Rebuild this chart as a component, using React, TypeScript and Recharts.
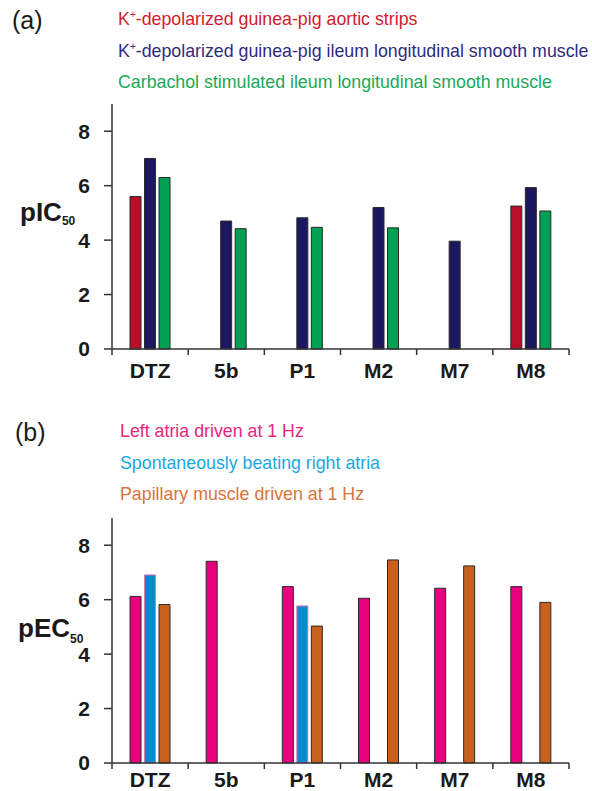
import React from 'react';
import { BarChart, Bar, XAxis, YAxis } from 'recharts';

// ---------- data ----------
const categories = ['DTZ', '5b', 'P1', 'M2', 'M7', 'M8'];
const yTicks = [0, 2, 4, 6, 8];

// panel (a) pIC50
const aorticStrips = [5.6, null, null, null, null, 5.25];
const ileumK = [7.0, 4.7, 4.82, 5.2, 3.96, 5.93];
const ileumCarbachol = [6.3, 4.42, 4.47, 4.45, null, 5.07];

// panel (b) pEC50
const leftAtria = [6.12, 7.41, 6.48, 6.05, 6.42, 6.48];
const rightAtria = [6.91, null, 5.77, null, null, null];
const papillary = [5.82, null, 5.03, 7.46, 7.24, 5.9];

const seriesA = [
  { key: 'aortic', name: 'K+-depolarized guinea-pig aortic strips', fill: '#b8102a', stroke: '#2a2a2a', text: '#d0202e' },
  { key: 'ileumK', name: 'K+-depolarized guinea-pig ileum longitudinal smooth muscle', fill: '#1b1860', stroke: '#2a2a2a', text: '#2e2b80' },
  { key: 'carbachol', name: 'Carbachol stimulated ileum longitudinal smooth muscle', fill: '#00a052', stroke: '#2a2a2a', text: '#1aa858' },
];
const seriesB = [
  { key: 'left', name: 'Left atria driven at 1 Hz', fill: '#e8007e', stroke: '#2a2a2a', text: '#e8267e' },
  { key: 'right', name: 'Spontaneously beating right atria', fill: '#0a88d0', stroke: '#e07aa8', text: '#18a8e0' },
  { key: 'papillary', name: 'Papillary muscle driven at 1 Hz', fill: '#c8601e', stroke: '#2a2a2a', text: '#d8743a' },
];

const dataA = categories.map((c, i) => ({
  name: c,
  aortic: aorticStrips[i],
  ileumK: ileumK[i],
  carbachol: ileumCarbachol[i],
}));
const dataB = categories.map((c, i) => ({
  name: c,
  left: leftAtria[i],
  right: rightAtria[i],
  papillary: papillary[i],
}));

const FONT = '"Liberation Sans", Arial, Helvetica, sans-serif';
const AXIS = '#333333';

function CategoryTick(props: any) {
  const { x, y, payload, index, visibleTicksCount, width, labelDy } = props;
  const half = (payload && payload.offset) || width / visibleTicksCount / 2;
  const last = index === visibleTicksCount - 1;
  return (
    <g>
      <line x1={x - half} x2={x - half} y1={y} y2={y + 6} stroke={AXIS} strokeWidth={1.5} />
      {last && <line x1={x + half} x2={x + half} y1={y} y2={y + 6} stroke={AXIS} strokeWidth={1.5} />}
      <text x={x} y={y + labelDy} textAnchor="middle" fill="#1a1a1a" fontFamily={FONT} fontWeight="bold" fontSize={21}>
        {payload.value}
      </text>
    </g>
  );
}

function LegendLine({ label, x, y, color }: { label: string; x: number; y: number; color: string }) {
  if (label.startsWith('K+')) {
    return (
      <text x={x} y={y} fill={color} fontFamily={FONT} fontSize={17.8}>
        <tspan>K</tspan>
        <tspan fontSize={10} dy={-7}>+</tspan>
        <tspan dy={7}>{label.slice(2)}</tspan>
      </text>
    );
  }
  return (
    <text x={x} y={y} fill={color} fontFamily={FONT} fontSize={17.8}>
      {label}
    </text>
  );
}

function Panel({ data, series, top, height, marginTop, xAxisHeight, labelDy }: any) {
  return (
    <div style={{ position: 'absolute', left: 0, top }}>
      <BarChart
        width={592}
        height={height}
        data={data}
        margin={{ top: marginTop, right: 23, left: 0, bottom: 0 }}
        barSize={11}
        barGap={3.5}
      >
        <XAxis
          dataKey="name"
          height={xAxisHeight}
          tickLine={false}
          tickSize={0}
          tickMargin={0}
          axisLine={{ stroke: AXIS, strokeWidth: 1.5 }}
          tick={<CategoryTick labelDy={labelDy} />}
          interval={0}
        />
        <YAxis
          width={112}
          domain={[0, 9]}
          ticks={yTicks}
          tickSize={8}
          tickMargin={14}
          axisLine={{ stroke: AXIS, strokeWidth: 1.5 }}
          tickLine={{ stroke: AXIS, strokeWidth: 1.5 }}
          tick={{ fill: '#1a1a1a', fontSize: 21, fontWeight: 'bold', fontFamily: FONT }}
        />
        {series.map((s: any) => (
          <Bar
            key={s.key}
            dataKey={s.key}
            name={s.name}
            fill={s.fill}
            stroke={s.stroke}
            strokeWidth={1}
            isAnimationActive={false}
          />
        ))}
      </BarChart>
    </div>
  );
}

export default function App() {
  return (
    <div style={{ position: 'absolute', left: 0, top: 0, width: 592, height: 791, background: '#fff', overflow: 'hidden' }}>
      <Panel data={dataA} series={seriesA} top={0} height={400} marginTop={104} xAxisHeight={51} labelDy={29} />
      <Panel data={dataB} series={seriesB} top={410} height={381} marginTop={108} xAxisHeight={28} labelDy={24} />
      <svg width={592} height={791} style={{ position: 'absolute', left: 0, top: 0, pointerEvents: 'none' }}>
        <text x={12} y={29} fontFamily={FONT} fontSize={25} fill="#1a1a1a">(a)</text>
        {seriesA.map((s, i) => (
          <LegendLine key={s.key} label={s.name} x={118} y={25 + i * 31.5} color={s.text} />
        ))}
        <text x={20} y={221} fontFamily={FONT} fontSize={26} fontWeight="bold" fill="#1a1a1a">
          pIC<tspan fontSize={12} dy={4}>50</tspan>
        </text>

        <text x={15} y={441} fontFamily={FONT} fontSize={25} fill="#1a1a1a">(b)</text>
        {seriesB.map((s, i) => (
          <LegendLine key={s.key} label={s.name} x={120} y={437 + i * 31.5} color={s.text} />
        ))}
        <text x={18} y={637} fontFamily={FONT} fontSize={26} fontWeight="bold" fill="#1a1a1a">
          pEC<tspan fontSize={12} dy={6}>50</tspan>
        </text>
      </svg>
    </div>
  );
}
